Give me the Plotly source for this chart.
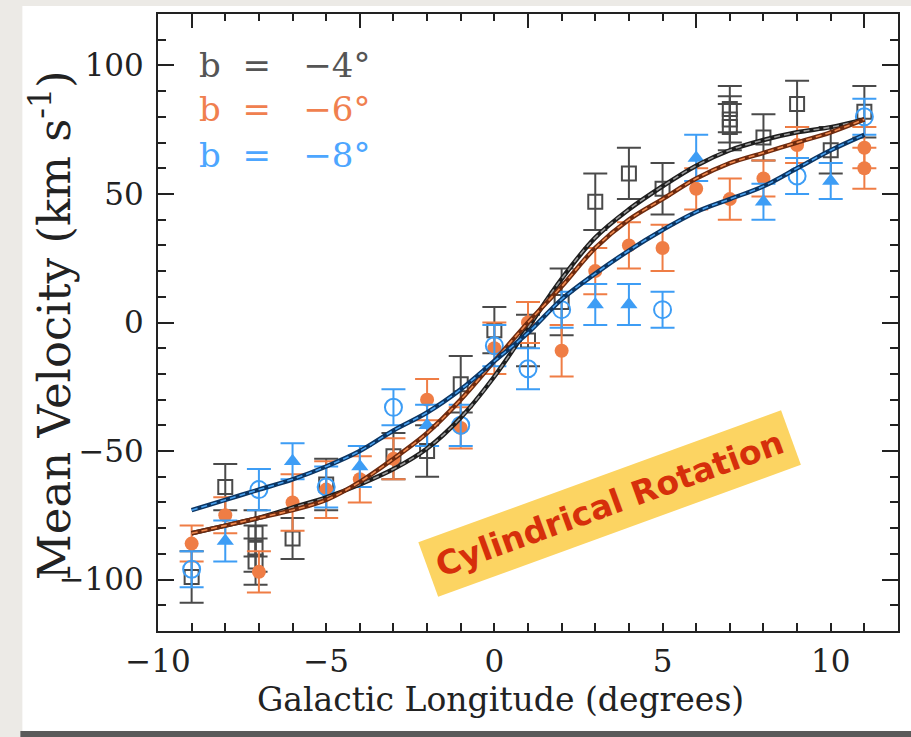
import plotly.graph_objects as go

# ---- model curves (mean velocity vs. galactic longitude) ----
model_l = [-9, -8, -7, -6, -5, -4, -3, -2, -1, 0, 1, 2, 3, 4, 5, 6, 7, 8, 9, 10, 11]
model_b4 = [-82, -79, -76, -72, -68, -63, -57, -49, -37, -21, -2, 17, 33, 44, 53, 61, 67, 71, 74, 76, 79]
model_b6 = [-82, -79, -76, -73, -69, -62, -53, -43, -30, -15, 0, 14, 29, 40, 48, 56, 62, 66, 70, 74, 79]
model_b8 = [-73, -69, -65, -61, -56, -50, -42, -35, -26, -15, -4, 9, 19, 28, 36, 43, 48, 53, 60, 67, 73]

# ---- b = -4 fields (open squares) ----
b4_l = [-9, -8, -7.1, -7.1, -7.1, -6, -5, -3, -2, -1, 0, 1, 2, 3, 4, 5, 7, 7, 7, 8, 9, 10, 11]
b4_v = [-99, -64, -82, -88, -93, -84, -63, -52, -50, -24, -3, -7, 8, 47, 58, 52, 83, 79, 76, 72, 85, 67, 82]
b4_e = [10, 9, 9, 9, 9, 8, 10, 9, 10, 11, 9, 10, 13, 11, 10, 10, 9, 9, 9, 9, 9, 9, 10]

# ---- b = -6 fields (filled circles) ----
b6_l = [-9, -8, -7, -6, -5, -4, -3, -2, -1, 0, 1, 2, 3, 4, 5, 6, 7, 8, 9, 11, 11]
b6_v = [-86, -75, -97, -70, -65, -61, -53, -30, -41, -10, 0, -11, 20, 30, 29, 52, 48, 56, 69, 68, 60]
b6_e = [7, 7, 8, 11, 11, 9, 8, 8, 8, 10, 8, 10, 9, 9, 9, 8, 8, 7, 7, 8, 8]

# ---- b = -8 fields (filled triangles and open circles) ----
b8t_l = [-8, -6, -4, -2, 3, 4, 6, 8, 10]
b8t_v = [-85, -54, -56, -40, 7, 7, 64, 47, 55]
b8t_e = [8, 7, 8, 8, 8, 8, 9, 7, 7]

b8c_l = [-9, -7, -5, -3, -1, 0, 1, 2, 5, 9, 11]
b8c_v = [-96, -65, -64, -33, -40, -9, -18, 5, 5, 57, 80]
b8c_e = [7, 8, 8, 7, 8, 8, 8, 7, 7, 7, 7]

NB = "\u00a0"
legend_labels = [f"b{NB*2}={NB*3}\u22124\u00b0", f"b{NB*2}={NB*3}\u22126\u00b0", f"b{NB*2}={NB*3}\u22128\u00b0"]
legend_y = [100, 83, 65]

GREY = "#4a4a4a"
ORANGE = "#ef7d45"
BLUE = "#3d9df5"

fig = go.Figure()


def points(l, v, e, color, symbol, size, lw=2):
    fig.add_trace(go.Scatter(
        x=l, y=v, mode="markers",
        marker=dict(symbol=symbol, size=size, color=color,
                    line=dict(color=color, width=lw)),
        error_y=dict(type="data", array=e, color=color, thickness=2, width=12),
        showlegend=False, cliponaxis=False,
    ))


points(b4_l, b4_v, b4_e, GREY, "square-open", 14)
points(b6_l, b6_v, b6_e, ORANGE, "circle", 14, 0)
points(b8t_l, b8t_v, b8t_e, BLUE, "triangle-up", 15, 0)
points(b8c_l, b8c_v, b8c_e, BLUE, "circle-open", 17)


def curve(v, outer, inner):
    fig.add_trace(go.Scatter(x=model_l, y=v, mode="lines", line_shape="spline",
                             line=dict(color=outer, width=4.5), showlegend=False))
    fig.add_trace(go.Scatter(x=model_l, y=v, mode="lines", line_shape="spline",
                             line=dict(color=inner, width=1.6, dash="6px,4px"),
                             showlegend=False))


curve(model_b4, "#1e1e1e", "#9a9a9a")
curve(model_b6, "#6e2a0e", "#f08a50")
curve(model_b8, "#0b3563", "#4aa2f0")

# legend-style labels in the upper left
for txt, yy, col in zip(legend_labels, legend_y, ["#555555", "#f0804f", "#4da6ff"]):
    fig.add_annotation(x=-8.85, y=yy, text=txt, showarrow=False, xanchor="left",
                       yanchor="middle", font=dict(family="DejaVu Serif", size=34, color=col))

fig.add_annotation(x=3.43, y=-70.3, text="<b>Cylindrical Rotation</b>", showarrow=False,
                   textangle=-20, bgcolor="#fcd462", borderpad=9,
                   font=dict(family="DejaVu Sans", size=33, color="#d62f0b"))

# page-like white panel on a light grey backdrop
L, R, T, B = 158, 11, 14, 106
W, H = 911, 737
pw, ph = W - L - R, H - T - B


def px_x(p):
    return (p - L) / pw


def px_y(p):
    return (H - B - p) / ph


fig.add_shape(type="rect", xref="paper", yref="paper", layer="below",
              x0=px_x(22), x1=px_x(915), y0=px_y(731), y1=px_y(6),
              fillcolor="white", line_width=0)
fig.add_shape(type="rect", xref="paper", yref="paper", layer="below",
              x0=px_x(20), x1=px_x(915), y0=px_y(737), y1=px_y(731),
              fillcolor="#5a5a5a", line_width=0)

# axis titles placed by hand so they sit where the page layout has them
fig.add_annotation(xref="paper", yref="paper", x=px_x(52), y=px_y(325),
                   text="Mean Velocity (km s<sup>-1</sup>)", showarrow=False, textangle=-90,
                   xanchor="center", yanchor="middle",
                   font=dict(family="DejaVu Serif", size=45, color="#222"))
fig.add_annotation(xref="paper", yref="paper", x=px_x(501), y=px_y(699),
                   text="Galactic Longitude (degrees)", showarrow=False,
                   xanchor="center", yanchor="middle",
                   font=dict(family="DejaVu Serif", size=33, color="#222"))

axis_font = dict(family="DejaVu Serif", size=31, color="#222222")

fig.update_layout(
    width=W, height=H,
    margin=dict(l=L, r=R, t=T, b=B),
    paper_bgcolor="#eceae6",
    plot_bgcolor="white",
    xaxis=dict(range=[-10, 12], tickvals=[-10, -5, 0, 5, 10], ticks="inside",
               ticklen=8, tickwidth=2, tickcolor="#222", showline=True, linewidth=2,
               linecolor="#222", showgrid=False, zeroline=False,
               minor=dict(dtick=1, tick0=0, ticklen=8, tickwidth=2, tickcolor="#222", ticks="inside"),
               tickfont=axis_font, ticklabelstandoff=2),
    xaxis2=dict(range=[-10, 12], overlaying="x", side="top", tick0=-9, dtick=5,
                ticks="inside", ticklen=14, tickwidth=2, tickcolor="#222",
                showline=True, linewidth=2, linecolor="#222", showticklabels=False,
                showgrid=False, zeroline=False,
                minor=dict(dtick=1, tick0=0, ticklen=7, tickwidth=2, tickcolor="#222", ticks="inside")),
    yaxis=dict(range=[-120, 120], tickvals=[-100, -50, 0, 50, 100], ticks="inside",
               ticklen=16, tickwidth=2, tickcolor="#222", showline=True, linewidth=2,
               linecolor="#222", mirror="ticks", showgrid=False, zeroline=False,
               minor=dict(dtick=10, tick0=0, ticklen=8, tickwidth=2, tickcolor="#222", ticks="inside"),
               tickfont=axis_font, ticklabelstandoff=6),
)
# invisible trace to activate the top axis
fig.add_trace(go.Scatter(x=[0], y=[0], xaxis="x2", mode="markers",
                         marker=dict(opacity=0), showlegend=False, hoverinfo="skip"))

fig.write_html("out.html")
